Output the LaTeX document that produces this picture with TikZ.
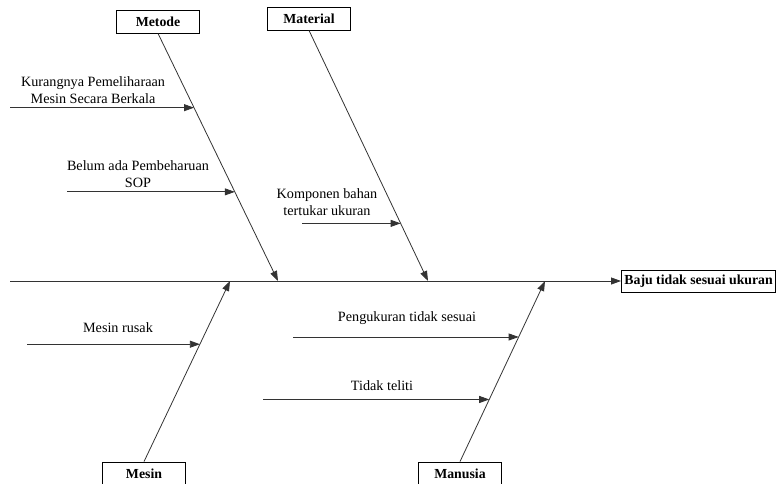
\documentclass[tikz,border=0pt]{standalone}
\usepackage{fontspec}
\setmainfont{Liberation Serif}
\usetikzlibrary{arrows.meta, calc, positioning}

\tikzset{
  catbox/.style={draw, line width=0.8pt, minimum width=83pt, minimum height=23pt, inner sep=2pt, font=\fontsize{13.8}{16}\selectfont\bfseries},
  bone/.style={line width=0.8pt, black!80, -{Triangle[length=10pt, width=7pt]}},
  causetext/.style={align=center, inner sep=0pt, font=\fontsize{14.2}{17}\selectfont}
}

\begin{document}
\begin{tikzpicture}[x=1pt, y=-1pt]
    \useasboundingbox (0,0) rectangle (776,484);

    % head and spine
    \node[catbox, anchor=west, inner sep=3pt, minimum height=22pt] (res) at (621,281) {Baju tidak sesuai ukuran};
    \coordinate (tail) at (10,281);
    \draw[bone] (tail) -- (res.west);

    % categories
    \node[catbox] (metode) at (158,21.5) {Metode};
    \node[catbox] (material) at (309,18.5) {Material};
    \node[catbox] (mesin) at (144,473.5) {Mesin};
    \node[catbox] (manusia) at (460,473.5) {Manusia};

    \coordinate (tipMetode) at (278,281);
    \coordinate (tipMaterial) at (428,281);
    \coordinate (tipMesin) at (230,281);
    \coordinate (tipManusia) at (545,281);

    \draw[bone] (metode.south) -- (tipMetode);
    \draw[bone] (material.south) -- (tipMaterial);
    \draw[bone] (mesin.north) -- (tipMesin);
    \draw[bone] (manusia.north) -- (tipManusia);

    % causes
    \coordinate (kurang) at ($(metode.south)!0.30!(tipMetode)$);
    \coordinate (belum) at ($(metode.south)!0.64!(tipMetode)$);
    \coordinate (komponen) at ($(material.south)!0.77!(tipMaterial)$);
    \coordinate (rusak) at ($(mesin.north)!0.65!(tipMesin)$);
    \coordinate (ukur) at ($(manusia.north)!0.69!(tipManusia)$);
    \coordinate (teliti) at ($(manusia.north)!0.344!(tipManusia)$);

    \coordinate (kurangStart) at (10,0 |- kurang);
    \coordinate (belumStart) at (67,0 |- belum);
    \coordinate (komponenStart) at (302,0 |- komponen);
    \coordinate (rusakStart) at (27,0 |- rusak);
    \coordinate (ukurStart) at (293,0 |- ukur);
    \coordinate (telitiStart) at (263,0 |- teliti);

    \draw[bone] (kurangStart) -- (kurang);
    \draw[bone] (belumStart) -- (belum);
    \draw[bone] (komponenStart) -- (komponen);
    \draw[bone] (rusakStart) -- (rusak);
    \draw[bone] (ukurStart) -- (ukur);
    \draw[bone] (telitiStart) -- (teliti);

    \node[causetext] (tKurang) at (93,90) {Kurangnya Pemeliharaan\\Mesin Secara Berkala};
    \node[causetext] (tBelum) at (138,174) {Belum ada Pembeharuan\\SOP};
    \node[causetext] (tKomponen) at (327,202) {Komponen bahan\\tertukar ukuran};
    \node[causetext] (tRusak) at (118,328) {Mesin rusak};
    \node[causetext] (tUkur) at (407,318) {Pengukuran tidak sesuai};
    \node[causetext] (tTeliti) at (382,386) {Tidak teliti};
\end{tikzpicture}
\end{document}
